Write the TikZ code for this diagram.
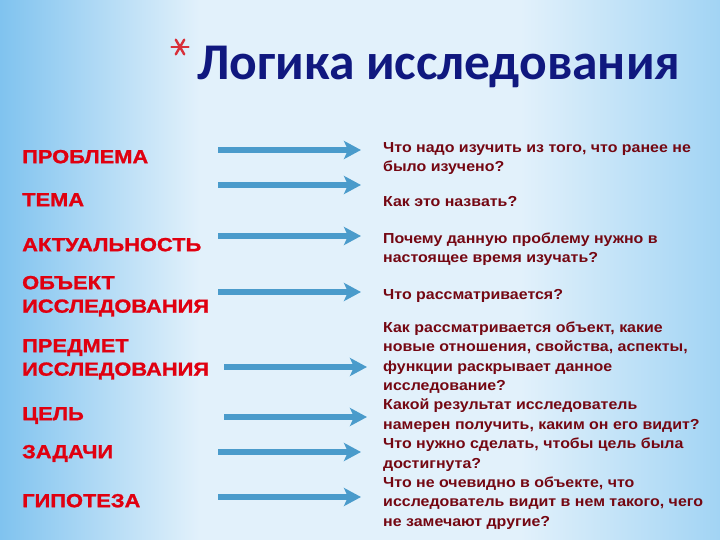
\documentclass[tikz,border=0pt]{standalone}
\usepackage{fontspec}
\setmainfont{Liberation Sans}
\newfontfamily\titlefont{Carlito}[UprightFont={* Bold}]
\newfontfamily\lblfont{Liberation Sans}[UprightFont={* Bold}, FakeStretch=1.15, FakeBold=1.2]
\newfontfamily\ansfont{Liberation Sans}[UprightFont={* Bold}, FakeStretch=1.1]
\usetikzlibrary{arrows.meta}
\definecolor{bgL}{HTML}{80C3EF}
\definecolor{bgM}{HTML}{E2F1FB}
\definecolor{bgR}{HTML}{A2D4F4}
\definecolor{labelred}{HTML}{E00010}
\definecolor{ansred}{HTML}{740712}
\definecolor{arrowblue}{HTML}{4A9BCB}
\definecolor{titleblue}{HTML}{10187F}
\definecolor{starred}{HTML}{D8303A}
\begin{document}
\begin{tikzpicture}[x=1pt,y=-1pt,
  lbl/.style={anchor=north west, inner sep=0pt, align=left, text=labelred,
    font=\lblfont\fontsize{19}{23.5}\selectfont},
  ans/.style={anchor=north west, inner sep=0pt, align=left, text=ansred,
    font=\ansfont\fontsize{14.5}{19.4}\selectfont},
  conn/.style={draw=arrowblue, line width=6pt,
    -{Stealth[length=17pt,width=18pt,inset=4pt]}},
  spoke/.style={draw=starred, line width=2.4pt, line cap=round}]
\useasboundingbox (0,0) rectangle (720,540);
% background
\shade[left color=bgL, right color=bgM] (0,0) rectangle (200,540);
\fill[bgM] (199,0) rectangle (521,540);
\shade[left color=bgM, right color=bgR] (520,0) rectangle (720,540);
% title
\coordinate (star) at (180,47);
\foreach \a in {0,60,120,180,240,300}{
  \draw[spoke] (star) -- ++(\a:8.5);
}
\node[anchor=base west, inner sep=0pt, text=titleblue,
  font=\titlefont\fontsize{51.5}{60}\selectfont] (title) at (197,80) {Логика исследования};
% left labels
\node[lbl] (l1) at (22,163-15) {\rule{0pt}{15pt}ПРОБЛЕМА};
\node[lbl] (l2) at (22,206-15) {\rule{0pt}{15pt}ТЕМА};
\node[lbl] (l3) at (22,251-15) {\rule{0pt}{15pt}АКТУАЛЬНОСТЬ};
\node[lbl] (l4) at (22,289-15) {\rule{0pt}{15pt}ОБЪЕКТ\\ИССЛЕДОВАНИЯ};
\node[lbl] (l5) at (22,352-15) {\rule{0pt}{15pt}ПРЕДМЕТ\\ИССЛЕДОВАНИЯ};
\node[lbl] (l6) at (22,420-15) {\rule{0pt}{15pt}ЦЕЛЬ};
\node[lbl] (l7) at (22,458-15) {\rule{0pt}{15pt}ЗАДАЧИ};
\node[lbl] (l8) at (22,507-15) {\rule{0pt}{15pt}ГИПОТЕЗА};
% answers
\node[ans] (q1) at (383,152-12) {\rule{0pt}{12pt}Что надо изучить из того, что ранее не\\было изучено?};
\node[ans] (q2) at (383,206-12) {\rule{0pt}{12pt}Как это назвать?};
\node[ans] (q3) at (383,243-12) {\rule{0pt}{12pt}Почему данную проблему нужно в\\настоящее время изучать?};
\node[ans] (q4) at (383,299-12) {\rule{0pt}{12pt}Что рассматривается?};
\node[ans] (q5) at (383,332-12) {\rule{0pt}{12pt}Как рассматривается объект, какие\\новые отношения, свойства, аспекты,\\функции раскрывает данное\\исследование?\\Какой результат исследователь\\намерен получить, каким он его видит?\\Что нужно сделать, чтобы цель была\\достигнута?\\Что не очевидно в объекте, что\\исследователь видит в нем такого, чего\\не замечают другие?};
% arrows
\coordinate (a1s) at (218,150); \coordinate (a1e) at (361,150);
\coordinate (a2s) at (218,185); \coordinate (a2e) at (361,185);
\coordinate (a3s) at (218,236); \coordinate (a3e) at (361,236);
\coordinate (a4s) at (218,292); \coordinate (a4e) at (361,292);
\coordinate (a5s) at (224,367); \coordinate (a5e) at (367,367);
\coordinate (a6s) at (224,417); \coordinate (a6e) at (367,417);
\coordinate (a7s) at (218,452); \coordinate (a7e) at (361,452);
\coordinate (a8s) at (218,497); \coordinate (a8e) at (361,497);
\foreach \i in {1,...,8}{ \draw[conn] (a\i s) -- (a\i e); }
\end{tikzpicture}
\end{document}
